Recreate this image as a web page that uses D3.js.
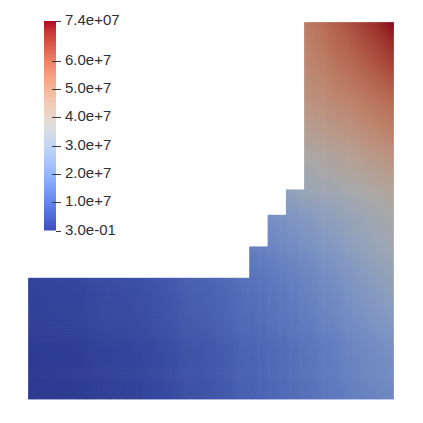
<!DOCTYPE html>
<html>
<head>
<meta charset="utf-8">
<script src="https://cdn.jsdelivr.net/npm/d3@7"></script>
<style>
  body { margin: 0; background: #fff; }
  svg { display: block; }
  .lbl { font-family: "Liberation Sans", Arial, sans-serif; font-size: 15px; fill: #303030; }
</style>
</head>
<body>
<script>
// colour range of the field (Pa)
const rangeMin = 0.3
const rangeMax = 7.4e7

// colour bar ticks
const tickValues = [0.3, 1e7, 2e7, 3e7, 4e7, 5e7, 6e7, 7.4e7]
const tickLabels = ['3.0e-01', '1.0e+7', '2.0e+7', '3.0e+7', '4.0e+7', '5.0e+7', '6.0e+7', '7.4e+07']

// outline of the domain (normalised coords)
const outlineX = [0, 1, 1, 0.754, 0.754, 0.704, 0.704, 0.654, 0.654, 0.604, 0.604, 0]
const outlineY = [0, 0, 1, 1, 0.557, 0.557, 0.49, 0.49, 0.406, 0.406, 0.323, 0.323]

// mesh nodes where the field was read, value in units of 1e6
const meshX = [0, 0.2, 0.33, 0.47, 0.604, 0.654, 0.704, 0.754, 0.88, 1]
const meshY = [0, 0.16, 0.323, 0.406, 0.49, 0.557, 0.66, 0.79, 0.9, 1]
const nodeValues = [
  [0.0, 0.8, 2.8, 5.4, 8.8, 10.0, 11.2, 12.6, 16.3, 19.4],
  [0.7, 1.6, 3.5, 6.5, 9.9, 11.2, 12.5, 14.0, 18.4, 23.0],
  [2.2, 3.6, 5.9, 9.4, 13.3, 14.8, 16.3, 18.2, 23.8, 30.6],
  [null, null, null, null, 16.3, 17.8, 19.4, 21.4, 27.4, 34.0],
  [null, null, null, null, null, 22.0, 23.8, 25.9, 31.3, 37.2],
  [null, null, null, null, null, null, 29.0, 31.8, 36.2, 41.0],
  [null, null, null, null, null, null, null, 38.5, 43.2, 48.8],
  [null, null, null, null, null, null, null, 46.6, 52.5, 58.5],
  [null, null, null, null, null, null, null, 50.3, 58.5, 66.6],
  [null, null, null, null, null, null, null, 53.3, 63.6, 74.0]
]

// ParaView "Cool to Warm"
const coolWarm = [
  [59,76,192],[68,90,204],[77,104,215],[87,117,225],[98,130,234],[108,142,241],
  [119,154,247],[130,165,251],[141,176,254],[152,185,255],[163,194,255],[174,201,253],
  [184,208,249],[194,213,244],[204,217,238],[213,219,230],[221,221,221],[229,216,209],
  [236,211,197],[241,204,185],[245,196,173],[247,187,160],[247,177,148],[247,166,135],
  [244,154,123],[241,141,111],[236,127,99],[229,112,88],[222,96,77],[213,80,66],
  [203,62,56],[192,40,47],[180,4,38]
]

const W = 423, H = 423
const shade = 0.76

const svg = d3.select('body').append('svg').attr('width', W).attr('height', H)

const xScale = d3.scaleLinear().domain([0, 1]).range([28, 394])
const yScale = d3.scaleLinear().domain([0, 1]).range([399.5, 22])

const colour = d3.scaleLinear()
  .domain(coolWarm.map((c, i) => rangeMin + (rangeMax - rangeMin) * i / (coolWarm.length - 1)))
  .range(coolWarm.map(c => d3.rgb(c[0], c[1], c[2])))
  .interpolate(d3.interpolateRgb)
  .clamp(true)

const lit = v => {
  const c = d3.rgb(colour(v))
  return d3.rgb(c.r * shade, c.g * shade, c.b * shade).formatHex()
}

// clip to the outline
const outline = outlineX.map((x, i) => [xScale(x), yScale(outlineY[i])])
svg.append('defs').append('clipPath').attr('id', 'dom')
  .append('path').attr('d', 'M' + outline.join('L') + 'Z')

// field cells, shaded like the mesh (bilinear within each element)
const cells = []
for (let j = 0; j < meshY.length - 1; j++) {
  for (let i = 0; i < meshX.length - 1; i++) {
    const v00 = nodeValues[j][i], v10 = nodeValues[j][i + 1]
    const v01 = nodeValues[j + 1][i], v11 = nodeValues[j + 1][i + 1]
    if ([v00, v10, v01, v11].some(v => v === null)) continue
    const x0 = meshX[i], x1 = meshX[i + 1], y0 = meshY[j], y1 = meshY[j + 1]
    const nx = Math.ceil((xScale(x1) - xScale(x0)) / 2)
    const ny = Math.ceil((yScale(y0) - yScale(y1)) / 2)
    for (let a = 0; a < nx; a++) {
      for (let b = 0; b < ny; b++) {
        const u = (a + 0.5) / nx, w = (b + 0.5) / ny
        const v = (v00 * (1 - u) * (1 - w) + v10 * u * (1 - w) + v01 * (1 - u) * w + v11 * u * w) * 1e6
        cells.push({
          xa: x0 + (x1 - x0) * a / nx, xb: x0 + (x1 - x0) * (a + 1) / nx,
          ya: y0 + (y1 - y0) * b / ny, yb: y0 + (y1 - y0) * (b + 1) / ny,
          v
        })
      }
    }
  }
}

svg.append('g')
  .attr('clip-path', 'url(#dom)')
  .selectAll('rect')
  .data(cells)
  .join('rect')
  .attr('x', d => xScale(d.xa))
  .attr('y', d => yScale(d.yb))
  .attr('width', d => xScale(d.xb) - xScale(d.xa) + 0.6)
  .attr('height', d => yScale(d.ya) - yScale(d.yb) + 0.6)
  .attr('fill', d => lit(d.v))

svg.append('path')
  .attr('d', 'M' + outline.join('L') + 'Z')
  .attr('fill', 'none')
  .attr('stroke', '#fff')
  .attr('stroke-opacity', 0.25)
  .attr('stroke-width', 1)

// colour bar
const barScale = d3.scaleLinear().domain([rangeMin, rangeMax]).range([230.5, 21])
const grad = svg.select('defs').append('linearGradient')
  .attr('id', 'cbar').attr('x1', 0).attr('y1', 1).attr('x2', 0).attr('y2', 0)
grad.selectAll('stop')
  .data(coolWarm)
  .join('stop')
  .attr('offset', (d, i) => i / (coolWarm.length - 1))
  .attr('stop-color', d => d3.rgb(d[0], d[1], d[2]).formatHex())

svg.append('rect')
  .attr('x', 44).attr('width', 12)
  .attr('y', barScale(rangeMax)).attr('height', barScale(rangeMin) - barScale(rangeMax))
  .attr('fill', 'url(#cbar)')

const ticks = svg.append('g')
ticks.selectAll('line')
  .data(tickValues)
  .join('line')
  .attr('x1', (d, i) => (i === 0 || i === tickValues.length - 1) ? 56 : 52)
  .attr('x2', 61)
  .attr('y1', d => Math.round(barScale(d)) + 0.5)
  .attr('y2', d => Math.round(barScale(d)) + 0.5)
  .attr('stroke', '#3a3a3a')
  .attr('stroke-width', 1)

ticks.selectAll('text')
  .data(tickValues)
  .join('text')
  .attr('class', 'lbl')
  .attr('x', 65)
  .attr('y', d => barScale(d) + 4)
  .text((d, i) => tickLabels[i])
</script>
</body>
</html>
